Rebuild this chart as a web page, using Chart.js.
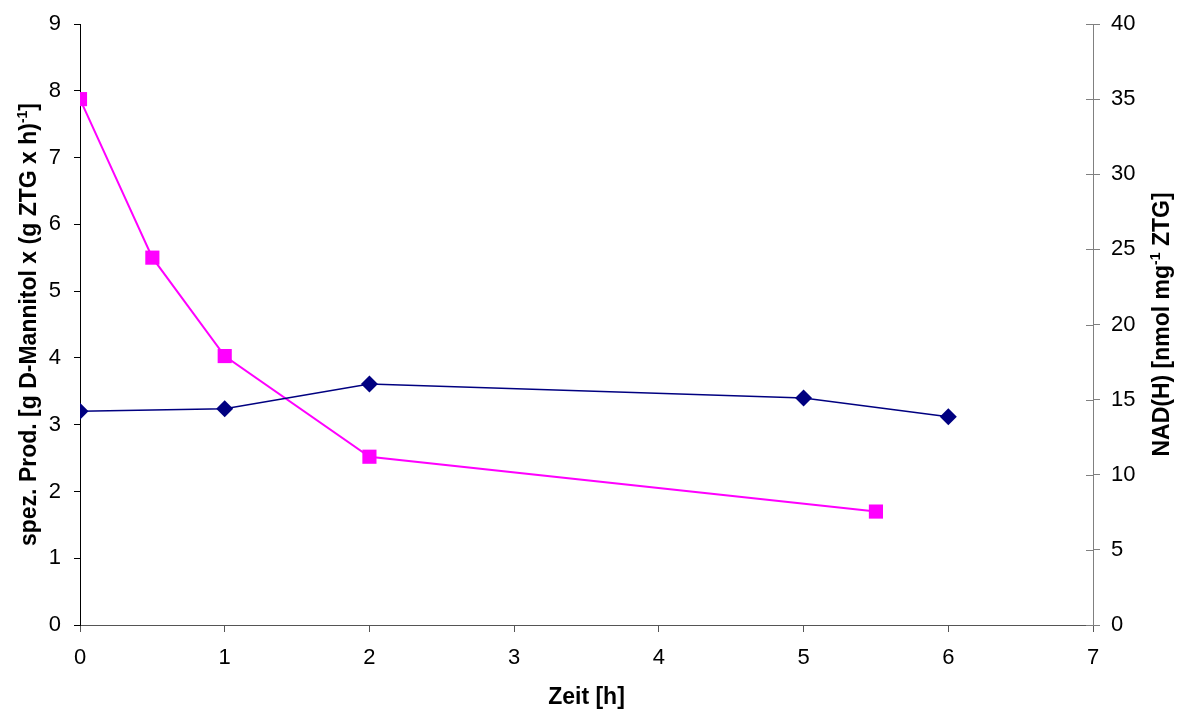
<!DOCTYPE html>
<html>
<head>
<meta charset="utf-8">
<script src="https://cdn.jsdelivr.net/npm/chart.js@4/dist/chart.umd.min.js"></script>
<style>
html,body{margin:0;padding:0;background:#fff;}
#wrap{width:1180px;height:711px;}
</style>
</head>
<body>
<div id="wrap"><canvas id="c" width="1180" height="711"></canvas></div>
<script>
const mannitolTime = [0, 1, 2, 5, 6];
const mannitolValues = [3.2, 3.24, 3.61, 3.4, 3.12];
const nadhTime = [0, 0.5, 1, 2, 5.5];
const nadhValues = [35.0, 24.45, 17.9, 11.2, 7.55];
const xTicks = [0, 1, 2, 3, 4, 5, 6, 7];
const leftTicks = [0, 1, 2, 3, 4, 5, 6, 7, 8, 9];
const rightTicks = [0, 5, 10, 15, 20, 25, 30, 35, 40];

// axis titles, split where the superscript "-1" occurs
const leftTitleParts = [['spez. Prod. [g D-Mannitol x (g ZTG x h)', false], ['-1', true], [']', false]];
const rightTitleParts = [['NAD(H) [nmol mg', false], ['-1', true], [' ZTG]', false]];
const xTitle = 'Zeit [h]';

const FAM = 'Liberation Sans, Arial, sans-serif';
const tickFont = {family: FAM, size: 22};
const yTickFont = {family: FAM, size: 22, lineHeight: 1};
const titleFont = {family: FAM, size: 23, weight: 'bold'};

function drawVerticalTitle(ctx, parts, bx, cy) {
  const mainF = 'bold 23px ' + FAM;
  const supF = 'bold 14px ' + FAM;
  ctx.save();
  ctx.translate(bx, cy);
  ctx.rotate(-Math.PI / 2);
  ctx.fillStyle = '#000';
  ctx.textBaseline = 'alphabetic';
  ctx.textAlign = 'left';
  let total = 0;
  const widths = parts.map(([t, sup]) => { ctx.font = sup ? supF : mainF; const w = ctx.measureText(t).width; total += w; return w; });
  let x = -total / 2;
  parts.forEach(([t, sup], i) => {
    ctx.font = sup ? supF : mainF;
    ctx.fillText(t, x, sup ? -9 : 0);
    x += widths[i];
  });
  ctx.restore();
}

const extras = {
  id: 'extras',
  afterDraw(chart) {
    const ctx = chart.ctx;
    const s = chart.scales.y1;
    ctx.save();
    ctx.strokeStyle = '#808080';
    ctx.lineWidth = 1;
    rightTicks.forEach(v => {
      const y = Math.round(s.getPixelForValue(v)) + 0.5;
      ctx.beginPath();
      ctx.moveTo(s.left - 7, y);
      ctx.lineTo(s.left, y);
      ctx.stroke();
    });
    ctx.restore();
    const ca = chart.chartArea;
    const cy = (ca.top + ca.bottom) / 2;
    drawVerticalTitle(ctx, leftTitleParts, 36, cy);
    drawVerticalTitle(ctx, rightTitleParts, 1169, cy);
  }
};

new Chart(document.getElementById('c'), {
  type: 'line',
  data: {
    datasets: [
      {
        label: 'D-Mannitol',
        data: mannitolTime.map((t, i) => ({x: t, y: mannitolValues[i]})),
        yAxisID: 'y',
        borderColor: '#000080',
        backgroundColor: '#000080',
        borderWidth: 1.5,
        pointStyle: 'rectRot',
        pointRadius: 8.5,
        pointHoverRadius: 8.5,
        pointBorderWidth: 0,
        tension: 0
      },
      {
        label: 'NAD(H)',
        data: nadhTime.map((t, i) => ({x: t, y: nadhValues[i]})),
        yAxisID: 'y1',
        borderColor: '#FF00FF',
        backgroundColor: '#FF00FF',
        borderWidth: 2,
        pointStyle: 'rect',
        pointRadius: 10,
        pointHoverRadius: 10,
        pointBorderWidth: 0,
        tension: 0
      }
    ]
  },
  options: {
    responsive: false,
    animation: false,
    devicePixelRatio: 1,
    layout: {padding: {top: 24, left: 0, right: 0, bottom: 0}},
    plugins: {legend: {display: false}, tooltip: {enabled: false}},
    scales: {
      x: {
        type: 'linear',
        min: 0, max: 7,
        afterBuildTicks: s => { s.ticks = xTicks.map(v => ({value: v})); },
        afterFit: s => { s.height = 86; },
        grid: {drawOnChartArea: false, drawTicks: true, tickLength: 7, color: '#555'},
        border: {color: '#555', width: 1},
        ticks: {font: tickFont, color: '#000', padding: 13, maxRotation: 0},
        title: {display: true, text: xTitle, font: titleFont, color: '#000', padding: {top: 4, bottom: 0}}
      },
      y: {
        type: 'linear',
        position: 'left',
        min: 0, max: 9,
        afterBuildTicks: s => { s.ticks = leftTicks.map(v => ({value: v})); },
        afterFit: s => { s.width = 80; },
        grid: {drawOnChartArea: false, drawTicks: true, tickLength: 6, color: '#000'},
        border: {color: '#000', width: 1},
        ticks: {font: yTickFont, color: '#000', padding: 13}
      },
      y1: {
        type: 'linear',
        position: 'right',
        min: 0, max: 40,
        afterBuildTicks: s => { s.ticks = rightTicks.map(v => ({value: v})); },
        afterFit: s => { s.width = 87; },
        grid: {drawOnChartArea: false, drawTicks: true, tickLength: 7, color: '#808080'},
        border: {color: '#808080', width: 1},
        ticks: {font: yTickFont, color: '#000', padding: 11}
      }
    }
  },
  plugins: [extras]
});
</script>
</body>
</html>
